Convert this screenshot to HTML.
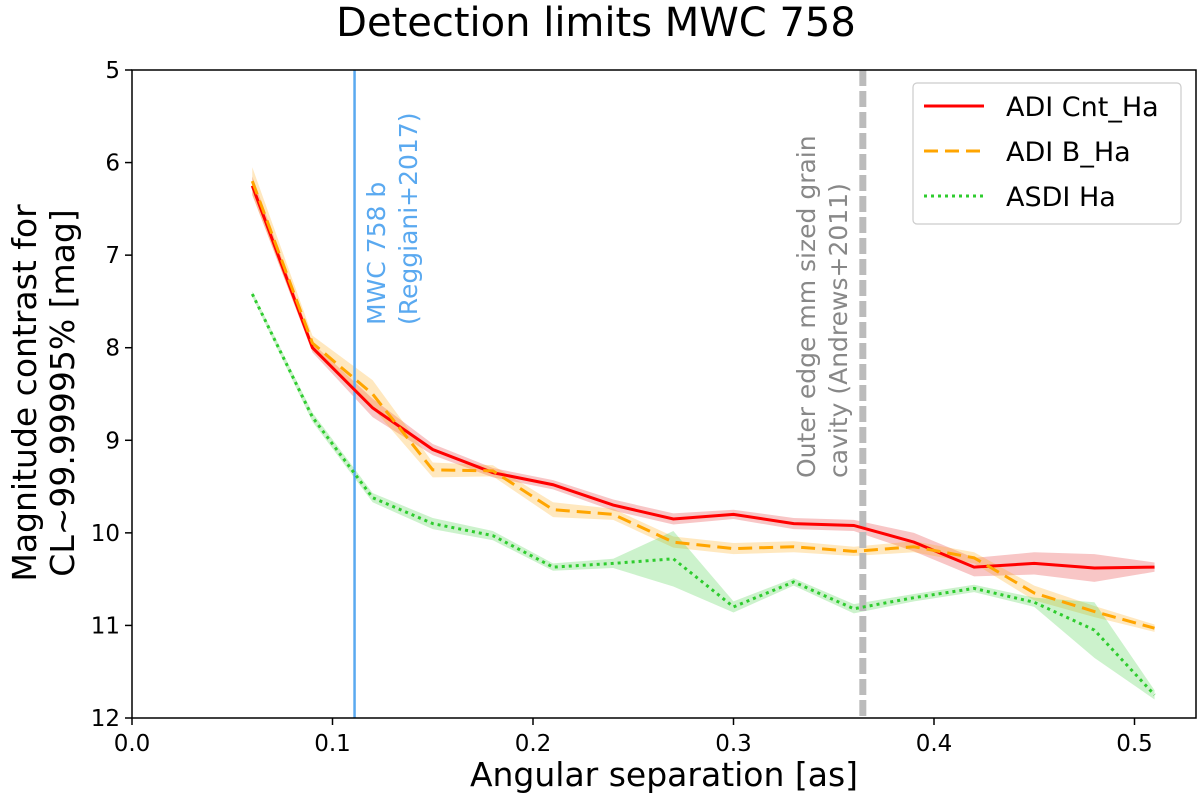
<!DOCTYPE html>
<html><head><meta charset="utf-8">
<style>body{margin:0;background:#fff}svg{display:block}text{font-family:"DejaVu Sans","Liberation Sans",sans-serif}</style>
</head><body>
<svg id="c" width="1200" height="799"></svg>
<script>
const sep=[0.06,0.09,0.12,0.15,0.18,0.21,0.24,0.27,0.30,0.33,0.36,0.39,0.42,0.45,0.48,0.51];
const cntHa=[6.25,8.0,8.65,9.1,9.35,9.48,9.7,9.85,9.8,9.9,9.92,10.1,10.37,10.33,10.38,10.37];
const cntHaErr=[0.1,0.05,0.1,0.06,0.05,0.05,0.06,0.06,0.05,0.06,0.06,0.1,0.1,0.12,0.15,0.05];
const bHa=[6.2,7.95,8.5,9.32,9.33,9.75,9.8,10.1,10.17,10.15,10.2,10.15,10.27,10.65,10.85,11.03];
const bHaErr=[0.15,0.08,0.15,0.08,0.06,0.08,0.06,0.06,0.06,0.06,0.05,0.06,0.06,0.08,0.06,0.04];
const asdiHa=[7.42,8.75,9.62,9.9,10.03,10.37,10.33,10.28,10.8,10.53,10.82,10.7,10.6,10.75,11.05,11.75];
const asdiErr=[0.03,0.05,0.05,0.06,0.05,0.04,0.05,0.3,0.06,0.04,0.05,0.04,0.04,0.05,0.3,0.05];
const xTicks=[0.0,0.1,0.2,0.3,0.4,0.5];
const yTicks=[5,6,7,8,9,10,11,12];
const L=132,R=1196,T=70,B=718;
const X=v=>L+v*2005, Y=v=>T+(v-5)*(B-T)/7;
const s=document.getElementById('c');const NS='http://www.w3.org/2000/svg';
function el(t,a,p){const e=document.createElementNS(NS,t);for(const k in a)e.setAttribute(k,a[k]);(p||s).appendChild(e);return e;}
function txt(x,y,str,a){const e=el('text',Object.assign({x:x,y:y},a));e.textContent=str;return e;}
let t=txt(596,36,'Detection limits MWC 758',{'font-size':40,'text-anchor':'middle'});


function band(v,e,col,name){let up=sep.map((x,i)=>X(x)+','+Y(v[i]-e[i]));let dn=sep.map((x,i)=>X(x)+','+Y(v[i]+e[i])).reverse();
 const p=el('polygon',{points:up.concat(dn).join(' '),fill:col,'fill-opacity':0.25,stroke:'none'});
 
 }
function line(v,col,dash,name){const p=el('polyline',{points:sep.map((x,i)=>X(x)+','+Y(v[i])).join(' '),fill:'none',stroke:col,'stroke-width':3,'stroke-dasharray':dash});
 
 }
band(cntHa,cntHaErr,'#e31a1c','band-adi-cnt-ha');band(bHa,bHaErr,'#ffa500','band-adi-b-ha');band(asdiHa,asdiErr,'#32cd32','band-asdi-ha');
let vl=el('line',{x1:X(0.111),x2:X(0.111),y1:T,y2:B,stroke:'#5aa9f0','stroke-width':2.5});


let gl=el('line',{x1:X(0.3645),x2:X(0.3645),y1:T,y2:B,stroke:'#bbb','stroke-width':7,'stroke-dasharray':'16,5'});


line(cntHa,'#ff0000','','line-adi-cnt-ha');line(bHa,'#ffa500','14,7','line-adi-b-ha');line(asdiHa,'#2ecc2e','3,4','line-asdi-ha');
let a1=el('text',{transform:`translate(385,325) rotate(-90)`,'font-size':25,fill:'#5aa9f0'});a1.innerHTML='<tspan x="0" dy="0">MWC 758 b</tspan><tspan x="0" dy="32">(Reggiani+2017)</tspan>';


let a2=el('text',{transform:`translate(815,478) rotate(-90)`,'font-size':25,fill:'#888'});a2.innerHTML='<tspan x="0" dy="0">Outer edge mm sized grain</tspan><tspan x="0" dy="32">cavity (Andrews+2011)</tspan>';


let fr=el('rect',{x:L,y:T,width:R-L,height:B-T,fill:'none',stroke:'#000','stroke-width':1.5});


xTicks.forEach(v=>{el('line',{x1:X(v),x2:X(v),y1:B,y2:B+7,stroke:'#000','stroke-width':1.5});
 const tt=txt(X(v),B+33,v.toFixed(1),{'font-size':23,'text-anchor':'middle'});
 
 });
yTicks.forEach(v=>{el('line',{x1:L-7,x2:L,y1:Y(v),y2:Y(v),stroke:'#000','stroke-width':1.5});
 const tt=txt(L-12,Y(v)+8,String(v),{'font-size':23,'text-anchor':'end'});
 
 });
let xl=txt(664,786,'Angular separation [as]',{'font-size':33,'text-anchor':'middle'});


let yl=el('text',{transform:'translate(36,393) rotate(-90)','font-size':33,'text-anchor':'middle'});yl.innerHTML='<tspan x="0" dy="0">Magnitude contrast for</tspan><tspan x="0" dy="38">CL~99.99995% [mag]</tspan>';


let lg=el('g',{});


el('rect',{x:913,y:83,width:268,height:141,rx:4,fill:'#fff',stroke:'#ccc','stroke-width':1.2},lg);
[['ADI Cnt_Ha','#ff0000',''],['ADI B_Ha','#ffa500','14,7'],['ASDI Ha','#2ecc2e','3,4']].forEach((d,i)=>{
 const y=106+i*45;
 el('line',{x1:924,x2:984,y1:y,y2:y,stroke:d[1],'stroke-width':3,'stroke-dasharray':d[2]},lg);
 const tt=txt(1006,y+10,d[0],{'font-size':27});lg.appendChild(tt);
 
 });
</script>
</body></html>
